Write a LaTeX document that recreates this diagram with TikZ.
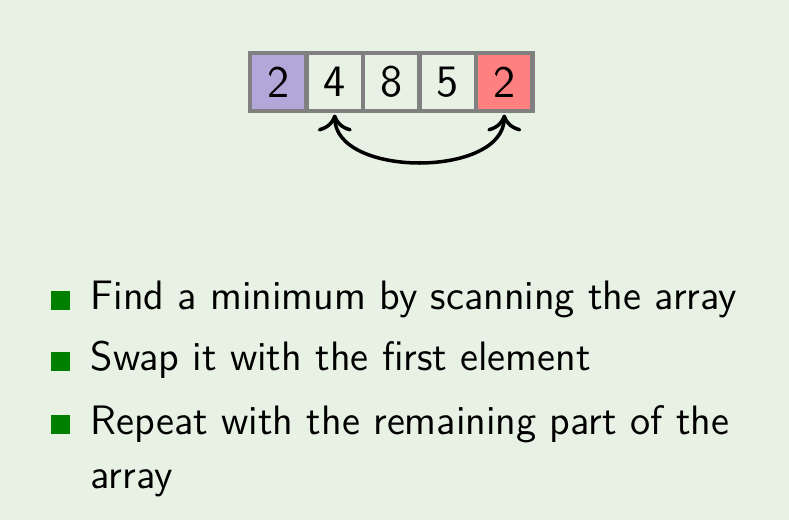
\documentclass[tikz,border=0pt]{standalone}
\usepackage{fontspec}
\usepackage{tikz}
\usetikzlibrary{arrows.meta,positioning}
\definecolor{slidebg}{HTML}{E7F2E5}
\definecolor{minpick}{HTML}{B3A7DA}
\definecolor{lastpick}{HTML}{FF8080}
\definecolor{bulletgreen}{HTML}{008000}
\definecolor{cellline}{HTML}{808080}
\tikzset{
  cell/.style={draw=cellline,line width=1.2pt,minimum width=0.565cm,
    minimum height=0.58cm,inner sep=0pt,outer sep=0pt,
    font=\sffamily\fontsize{12.8}{14}\selectfont},
  swaparrow/.style={{To[length=1.7mm,width=3.4mm]}-{To[length=1.7mm,width=3.4mm]},draw=black,line width=1pt},
  bullet/.style={fill=bulletgreen,minimum size=0.19cm,inner sep=0pt},
  itemtext/.style={anchor=base west,inner sep=0pt,align=left,
    font=\sffamily\fontsize{11.7}{15.3}\selectfont}
}
\begin{document}
\begin{tikzpicture}[node distance=0pt]
  \fill[slidebg] (0,0) rectangle (7.89,5.2);
  \useasboundingbox (0,0) rectangle (7.89,5.2);
  % the array
  \node[cell,fill=minpick] (c1) at (2.7825,4.38) {2};
  \node[cell,right=of c1] (c2) {4};
  \node[cell,right=of c2] (c3) {8};
  \node[cell,right=of c3] (c4) {5};
  \node[cell,fill=lastpick,right=of c4] (c5) {2};
  \draw[swaparrow,shorten <=1pt,shorten >=1pt] (c2.south) .. controls +(0,-0.67) and +(0,-0.67) .. (c5.south);
  % the steps
  \node[itemtext] (t1) at (0.90,2.10) {Find a minimum by scanning the array};
  \node[itemtext] (t2) at (0.90,1.49) {Swap it with the first element};
  \node[itemtext] (t3) at (0.90,0.32) {Repeat with the remaining part of the\\array};
  \node[bullet] (b1) at ([xshift=-0.295cm,yshift=0.09cm]t1.base west) {};
  \node[bullet] (b2) at ([xshift=-0.295cm,yshift=0.09cm]t2.base west) {};
  \node[bullet] (b3) at ([xshift=-0.295cm,yshift=0.63cm]t3.base west) {};
\end{tikzpicture}
\end{document}
